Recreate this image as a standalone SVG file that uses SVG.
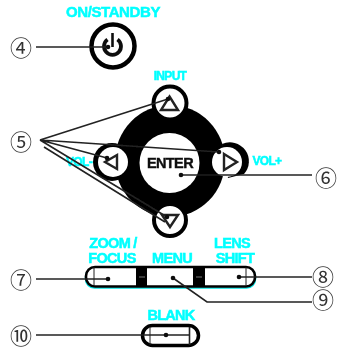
<svg xmlns="http://www.w3.org/2000/svg" width="341" height="350" viewBox="0 0 341 350">
<style>
.lab{font-family:"Liberation Sans",Arial,sans-serif;font-weight:700;font-size:14.5px;fill:#00ffff;text-anchor:middle;stroke:#00ffff;stroke-width:.5px;letter-spacing:-.7px}
.sm{font-size:12px}
.num{font-family:"Noto Sans CJK JP","DejaVu Sans",sans-serif;font-size:22px;fill:#333;text-anchor:middle}
.btn{fill:#fff;stroke:#000;stroke-width:4}
.tri{fill:none;stroke:#222;stroke-width:2.400;stroke-linejoin:miter}
.lead{fill:none;stroke:#222;stroke-width:1.600}
.dot{fill:#111}
.thin{fill:none;stroke:#222;stroke-width:1}
</style>
<defs><filter id="soft" x="0" y="0" width="100%" height="100%"><feGaussianBlur stdDeviation=".35"/></filter></defs>
<rect width="341" height="350" fill="#fff"/>
<g filter="url(#soft)">
<g id="power">
<circle cx="113" cy="46" r="21.500" fill="#fff" stroke="#000" stroke-width="4.500"/>
<path d="M107.500 39.500a8.500 8.500 0 1 0 10 0" fill="none" stroke="#111" stroke-width="3.800"/>
<path d="M112.500 33V47" stroke="#111" stroke-width="2.600" fill="none"/>
<text class="lab" x="113" y="17" style="font-size:15px;letter-spacing:-.4px">ON/STANDBY</text>
<text class="num" x="21" y="56">④</text>
</g>
<g id="dpad">
<ellipse cx="170" cy="161" rx="55" ry="56" fill="#000"/>
<circle cx="169.500" cy="163" r="30" fill="#fff"/>
<rect x="200" y="155" width="14" height="17" fill="#000"/>
<text x="170" y="168" font-family="Liberation Sans,Arial,sans-serif" font-weight="700" font-size="14.500" text-anchor="middle" fill="#111" stroke="#111" stroke-width=".4" letter-spacing="-.6">ENTER</text>
</g>
<g id="btn-up">
<circle class="btn" cx="170" cy="103" r="16.500"/>
<path class="tri" d="M169.500 96.500L178 110H161Z"/>
<text class="lab sm" x="170" y="80">INPUT</text>
</g>
<g id="btn-right">
<path d="M222 144a19 19 0 0 1 22 30l-16 4z" fill="#000"/>
<circle cx="227" cy="162" r="15" fill="#fff"/>
<path class="tri" d="M224 154L237 162L224 170Z"/>
<text class="lab sm" x="267" y="165">VOL+</text>
</g>
<g id="btn-left">
<text class="lab sm" x="79" y="166">VOL-</text>
<circle cx="112" cy="162" r="19" fill="#000"/>
<circle cx="113" cy="162" r="15" fill="#fff"/>
<path class="tri" d="M117 155L105 162L117 169Z"/>
</g>
<g id="btn-down">
<circle class="btn" cx="170" cy="220" r="16"/>
<path class="tri" d="M162 215H178L170 227Z"/>
</g>
<g id="callout-5"><text class="num" x="21" y="150">⑤</text></g>
<g id="callout-6"><text class="num" x="326" y="186">⑥</text></g>
<g id="row">
<rect x="85.500" y="268" width="170" height="20" rx="9" fill="#fff" stroke="#00e5e5" stroke-width="1.500"/>
<rect x="86" y="267" width="169" height="19.500" rx="9" fill="#fff" stroke="#000" stroke-width="2.600"/>
<rect x="136" y="266" width="11" height="21" fill="#000"/>
<rect x="193" y="266" width="12" height="21" fill="#000"/>
<path d="M139 277h6M196 277h6" stroke="#777" stroke-width="1"/>
<path class="thin" d="M94 267V286M246 267V286"/>
<text class="lab" x="113" y="248">ZOOM /</text>
<text class="lab" x="112" y="263">FOCUS</text>
<text class="lab" x="172" y="263">MENU</text>
<text class="lab" x="232" y="248">LENS</text>
<text class="lab" x="235" y="263">SHIFT</text>
<text class="num" x="21" y="288">⑦</text>
<text class="num" x="323" y="285">⑧</text>
<text class="num" x="323" y="308">⑨</text>
</g>
<g id="blank">
<rect x="142.500" y="325.500" width="56" height="20" rx="10" fill="#fff" stroke="#000" stroke-width="3.500"/>
<path class="thin" d="M150 327V345"/>
<path d="M189.500 327V345" stroke="#222" stroke-width="1.600"/>
<text class="lab" x="171" y="320">BLANK</text>
<text class="num" x="21" y="344">⑩</text>
</g>
<g id="connectors">
<path class="lead" d="M36 47H108"/><circle class="dot" cx="108" cy="47" r="2.300"/>
<path class="lead" d="M40 140L168 99M40 140L219 152M40 140L107 158M40 140L167 217M44 147L165 222"/>
<circle class="dot" cx="168" cy="99" r="2.300"/><circle class="dot" cx="219" cy="152" r="2.300"/><circle class="dot" cx="107" cy="158" r="2.300"/><circle class="dot" cx="167" cy="217" r="2.300"/>
<path class="lead" d="M181 175H312"/><circle class="dot" cx="181" cy="175" r="2.300"/>
<path class="lead" d="M36 279H108"/><circle class="dot" cx="108" cy="279" r="2.300"/>
<path class="lead" d="M239 277H312"/><circle class="dot" cx="239" cy="277" r="2.300"/>
<path class="lead" d="M173 278L207 302H312"/><circle class="dot" cx="173" cy="278" r="2.300"/>
<path class="lead" d="M36 335H190"/><circle class="dot" cx="166" cy="335" r="2.300"/>
</g>
</g>
</svg>
